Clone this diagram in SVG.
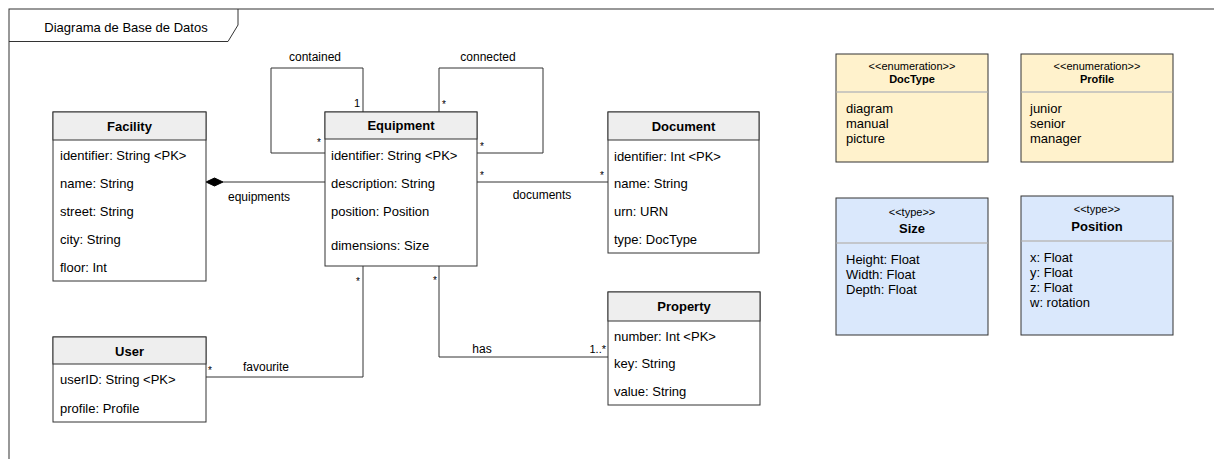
<svg xmlns="http://www.w3.org/2000/svg" width="1214" height="459" viewBox="0 0 1214 459">
<style>
text{font-family:"Liberation Sans",Arial,sans-serif;fill:#000}
.box{fill:#ffffff;stroke:#333333;stroke-width:1}
.hdr{fill:#eeeeee;stroke:#333333;stroke-width:1}
.enum{fill:#fff2cc;stroke:#333333;stroke-width:1}
.type{fill:#dae8fc;stroke:#333333;stroke-width:1}
.sep{stroke:#bbbbbb;stroke-width:1.5}
.title{font-size:13px;font-weight:bold;text-anchor:middle}
.attr{font-size:13px}
.st{font-size:11px;text-anchor:middle}
.stt{font-size:11px;font-weight:bold;text-anchor:middle}
.lbl{font-size:12px;text-anchor:middle}
.mul{font-size:10px;text-anchor:middle}
.conn{fill:none;stroke:#333333;stroke-width:1}
</style>
<g id="frame">
<rect x="9" y="9" width="1300" height="500" fill="none" stroke="#333333" stroke-width="1"/>
<path d="M9,41.5 H228 L238,25 V9" fill="none" stroke="#333333" stroke-width="1"/>
<text x="126" y="31.5" class="attr" text-anchor="middle">Diagrama de Base de Datos</text>
</g>
<g id="connectors">
<polyline class="conn" points="325,153 271,153 271,68 363,68 363,112"/>
<polyline class="conn" points="439,112 439,68 543,68 543,153 477,153"/>
<line class="conn" x1="223" y1="182" x2="325" y2="182"/>
<path d="M206,182 L214.5,178 L223,182 L214.5,186 Z" fill="#000" stroke="#000" stroke-width="1"/>
<line class="conn" x1="477" y1="182" x2="608" y2="182"/>
<polyline class="conn" points="206,377 363,377 363,266"/>
<polyline class="conn" points="439,266 439,357 608,357"/>
<text x="315" y="61" class="lbl">contained</text>
<text x="488" y="61" class="lbl">connected</text>
<text x="259" y="201" class="lbl">equipments</text>
<text x="542" y="199" class="lbl">documents</text>
<text x="266" y="371" class="lbl">favourite</text>
<text x="482" y="353" class="lbl">has</text>
<text x="357" y="107" class="mul" style="font-size:11px">1</text>
<text x="319" y="146" class="mul">*</text>
<text x="444" y="108" class="mul">*</text>
<text x="482" y="150" class="mul">*</text>
<text x="482" y="179" class="mul">*</text>
<text x="602" y="179" class="mul">*</text>
<text x="210" y="374" class="mul">*</text>
<text x="358" y="285" class="mul">*</text>
<text x="435" y="284" class="mul">*</text>
<text x="606" y="353" style="font-size:11px;text-anchor:end">1..*</text>
</g>
<g id="facility">
<rect class="box" x="53" y="112" width="153" height="169"/>
<rect class="hdr" x="53" y="112" width="153" height="28"/>
<text x="129.5" y="130.5" class="title">Facility</text>
<text x="60" y="159.5" class="attr">identifier: String &lt;PK&gt;</text>
<text x="60" y="187.5" class="attr">name: String</text>
<text x="60" y="215.5" class="attr">street: String</text>
<text x="60" y="243.5" class="attr">city: String</text>
<text x="60" y="271.5" class="attr">floor: Int</text>
</g>
<g id="equipment">
<rect class="box" x="325" y="112" width="152" height="154"/>
<rect class="hdr" x="325" y="112" width="152" height="27"/>
<text x="401" y="130" class="title">Equipment</text>
<text x="331" y="159.5" class="attr">identifier: String &lt;PK&gt;</text>
<text x="331" y="187.5" class="attr">description: String</text>
<text x="331" y="215.5" class="attr">position: Position</text>
<text x="331" y="249.5" class="attr">dimensions: Size</text>
</g>
<g id="document">
<rect class="box" x="608" y="112" width="151" height="141"/>
<rect class="hdr" x="608" y="112" width="151" height="28"/>
<text x="683.5" y="130.5" class="title">Document</text>
<text x="614" y="160.5" class="attr">identifier: Int &lt;PK&gt;</text>
<text x="614" y="187.5" class="attr">name: String</text>
<text x="614" y="215.5" class="attr">urn: URN</text>
<text x="614" y="243.5" class="attr">type: DocType</text>
</g>
<g id="user">
<rect class="box" x="53" y="337" width="153" height="85"/>
<rect class="hdr" x="53" y="337" width="153" height="27"/>
<text x="129.5" y="355.5" class="title">User</text>
<text x="60" y="384" class="attr">userID: String &lt;PK&gt;</text>
<text x="60" y="412.5" class="attr">profile: Profile</text>
</g>
<g id="property">
<rect class="box" x="608" y="292" width="152" height="113"/>
<rect class="hdr" x="608" y="292" width="152" height="29"/>
<text x="684" y="311" class="title">Property</text>
<text x="614" y="340.5" class="attr">number: Int &lt;PK&gt;</text>
<text x="614" y="367.5" class="attr">key: String</text>
<text x="614" y="395.5" class="attr">value: String</text>
</g>
<g id="doctype">
<rect class="enum" x="836" y="54" width="152" height="108"/>
<line class="sep" x1="836.5" y1="92" x2="987.5" y2="92"/>
<text x="912" y="70" class="st">&lt;&lt;enumeration&gt;&gt;</text>
<text x="912" y="83" class="stt">DocType</text>
<text x="846" y="112.5" class="attr">diagram</text>
<text x="846" y="127.5" class="attr">manual</text>
<text x="846" y="142.5" class="attr">picture</text>
</g>
<g id="profile">
<rect class="enum" x="1021" y="54" width="152" height="108"/>
<line class="sep" x1="1021.5" y1="92" x2="1172.5" y2="92"/>
<text x="1097" y="70" class="st">&lt;&lt;enumeration&gt;&gt;</text>
<text x="1097" y="83" class="stt">Profile</text>
<text x="1030" y="112.5" class="attr">junior</text>
<text x="1030" y="127.5" class="attr">senior</text>
<text x="1030" y="142.5" class="attr">manager</text>
</g>
<g id="size">
<rect class="type" x="836" y="198" width="152" height="137"/>
<line class="sep" x1="836.5" y1="243" x2="987.5" y2="243"/>
<text x="912" y="216" class="st">&lt;&lt;type&gt;&gt;</text>
<text x="912" y="232.5" class="title">Size</text>
<text x="846" y="263.5" class="attr">Height: Float</text>
<text x="846" y="278.5" class="attr">Width: Float</text>
<text x="846" y="293.5" class="attr">Depth: Float</text>
</g>
<g id="position">
<rect class="type" x="1021" y="196" width="152" height="139"/>
<line class="sep" x1="1021.5" y1="241" x2="1172.5" y2="241"/>
<text x="1097" y="213" class="st">&lt;&lt;type&gt;&gt;</text>
<text x="1097" y="230.5" class="title">Position</text>
<text x="1030" y="261.5" class="attr">x: Float</text>
<text x="1030" y="276.5" class="attr">y: Float</text>
<text x="1030" y="291.5" class="attr">z: Float</text>
<text x="1030" y="306.5" class="attr">w: rotation</text>
</g>
</svg>
